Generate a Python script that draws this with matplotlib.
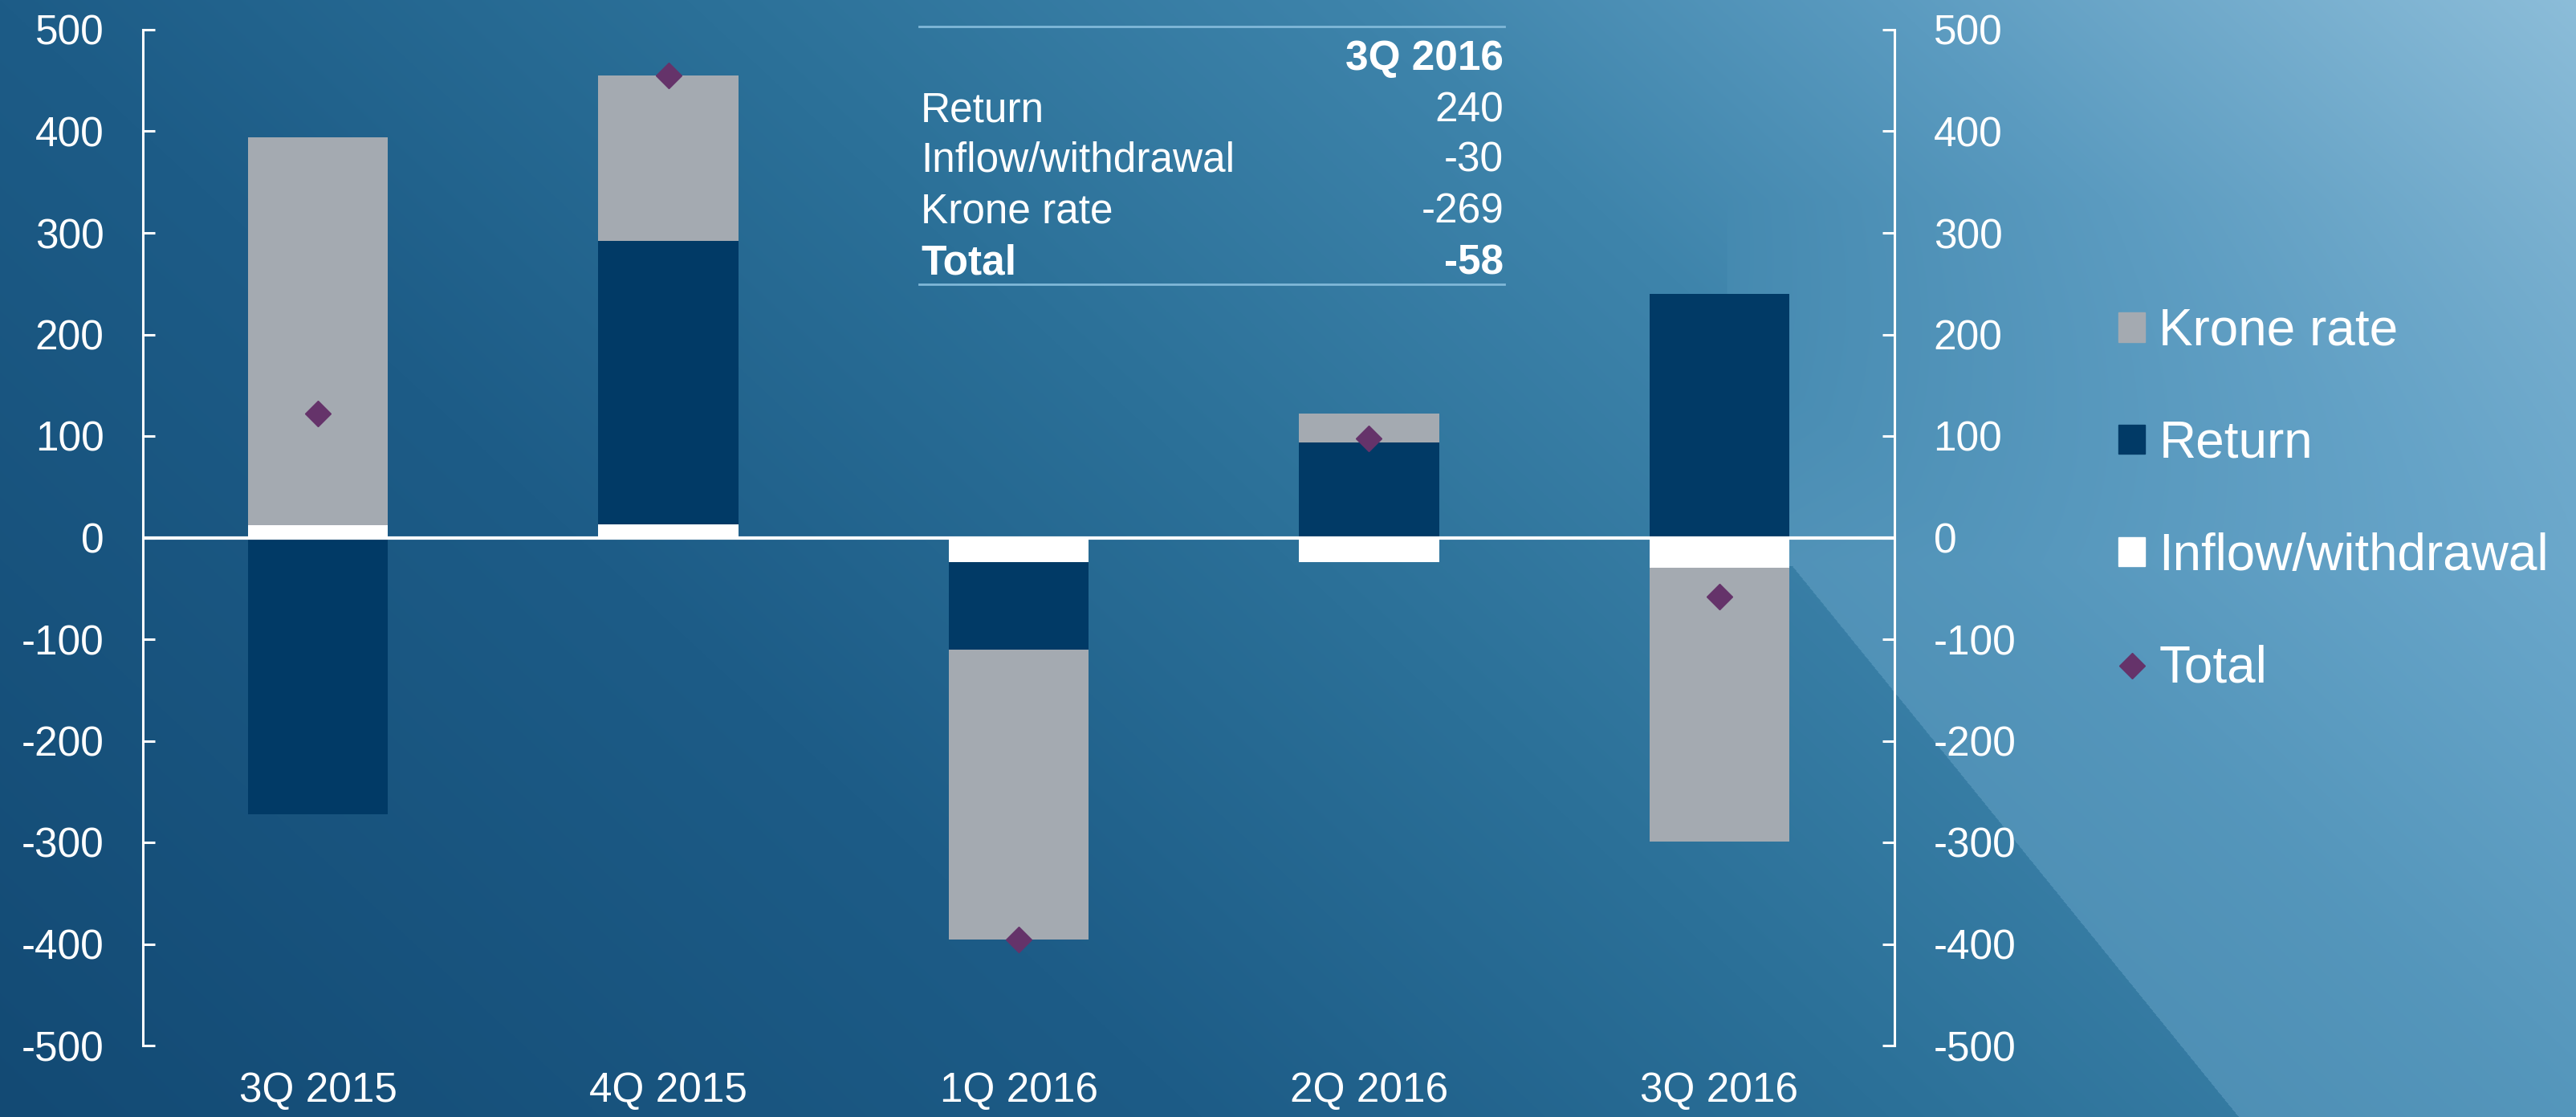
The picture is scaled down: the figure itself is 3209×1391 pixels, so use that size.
import numpy as np
import matplotlib
matplotlib.use("Agg")
import matplotlib.pyplot as plt
from matplotlib.patches import Patch
from matplotlib.lines import Line2D

plt.rcParams['font.family'] = ['Liberation Sans', 'DejaVu Sans']
plt.rcParams['axes.unicode_minus'] = False

# data (NOK bn)
quarters = ['3Q 2015', '4Q 2015', '1Q 2016', '2Q 2016', '3Q 2016']
inflow = [12, 13, -24, -24, -30]
returns = [-272, 279, -86, 94, 240]
krone = [382, 163, -286, 28, -269]
total = [122, 455, -396, 98, -58]

table_rows = ['Return', 'Inflow/withdrawal', 'Krone rate', 'Total']
table_vals = ['240', '-30', '-269', '-58']
table_head = '3Q 2016'

W, H = 3209, 1391
C_KRONE = '#a4aab1'
C_RETURN = '#013a66'
C_INFLOW = '#ffffff'
C_TOTAL = '#65336a'

# ---- background gradient ----
yy, xx = np.mgrid[0:H, 0:W].astype(float)
t = 0.75 * xx / W + 0.35 * (1 - yy / H)
stops = [0, 0.35, 0.55, 0.75, 0.9, 1.1]
cols = ['#134a74', '#1d5c87', '#2b7098', '#3e84ab', '#5b9bc0', '#8cbdd9']
rgb = np.array([matplotlib.colors.to_rgb(c) for c in cols])
img = np.dstack([np.interp(t, stops, rgb[:, i]) for i in range(3)])
# lighter overlay right of the diagonal edge
x_edge = np.where(yy >= 705, 2232 + (yy - 705) / 1.234, 2150)
alpha = 0.35 * np.clip((yy - 250) / 450, 0, 1) * (xx > x_edge)
light = np.array(matplotlib.colors.to_rgb('#7fb8da'))
img = img * (1 - alpha[..., None]) + light * alpha[..., None]

fig = plt.figure(figsize=(W / 100, H / 100), dpi=100)
bg = fig.add_axes([0, 0, 1, 1])
bg.imshow(img, extent=[0, W, H, 0], aspect='auto', interpolation='bilinear')
bg.set_xlim(0, W)
bg.set_ylim(H, 0)
bg.axis('off')

ax = fig.add_axes([178 / W, 1 - 1302 / H, (2360 - 178) / W, (1302 - 37) / H])
ax.set_facecolor('none')

x = np.arange(len(quarters))
pos_base = np.zeros(len(x))
neg_base = np.zeros(len(x))
for vals, col in [(inflow, C_INFLOW), (returns, C_RETURN), (krone, C_KRONE)]:
    v = np.array(vals, dtype=float)
    bottom = np.where(v >= 0, pos_base, neg_base)
    ax.bar(x, v, 0.4, bottom=bottom, color=col, linewidth=0, zorder=2)
    pos_base += np.where(v >= 0, v, 0)
    neg_base += np.where(v < 0, v, 0)

ax.axhline(0, color='white', lw=3, zorder=3)
ax.plot(x, total, 'D', ms=16, color=C_TOTAL, zorder=5)

ax.set_xlim(-0.5, 4.5)
ax.set_ylim(-500, 500)
ax.set_yticks(np.arange(-500, 501, 100))
ax.set_xticks(x)
ax.set_xticklabels(quarters)
for s in ['top', 'bottom']:
    ax.spines[s].set_visible(False)
for s in ['left', 'right']:
    ax.spines[s].set_color('white')
    ax.spines[s].set_linewidth(2.2)
ax.yaxis.set_ticks_position('both')
ax.tick_params(axis='y', direction='in', length=11, width=2.2, color='white',
               labelcolor='white', labelsize=37, pad=35, labelright=True)
ax.tick_params(axis='x', length=0, labelcolor='white', labelsize=37, pad=23)

# legend
handles = [Patch(color=C_KRONE, label='Krone rate'),
           Patch(color=C_RETURN, label='Return'),
           Patch(color=C_INFLOW, label='Inflow/withdrawal'),
           Line2D([], [], marker='D', ls='none', ms=16, color=C_TOTAL, label='Total')]
ax.legend(handles=handles, loc='upper left', bbox_to_anchor=(2639 / W, 1 - 383 / H),
          bbox_transform=fig.transFigure, frameon=False, fontsize=46,
          handlelength=0.52, handleheight=0.5, handletextpad=0.27,
          labelspacing=1.25, borderpad=0, borderaxespad=0, labelcolor='white')

# summary table (pixel coords on background axes)
tx0, tx1 = 1147, 1873
line_col = '#80b8d8'
bg.plot([tx0 - 2, tx1 + 1], [33, 33], color=line_col, lw=2)
bg.plot([tx0 - 2, tx1 + 1], [354, 354], color=line_col, lw=2)
bg.text(tx1, 87, table_head, color='white', fontsize=37, fontweight='bold',
        ha='right', va='baseline')
row_y = [151, 214, 278, 342]
for i, (lab, val) in enumerate(zip(table_rows, table_vals)):
    fw = 'bold' if lab == 'Total' else 'normal'
    bg.text(tx0, row_y[i], lab, color='white', fontsize=37, fontweight=fw,
            ha='left', va='baseline')
    bg.text(tx1, row_y[i], val, color='white', fontsize=37, fontweight=fw,
            ha='right', va='baseline')

fig.savefig('out.png', dpi=100)
